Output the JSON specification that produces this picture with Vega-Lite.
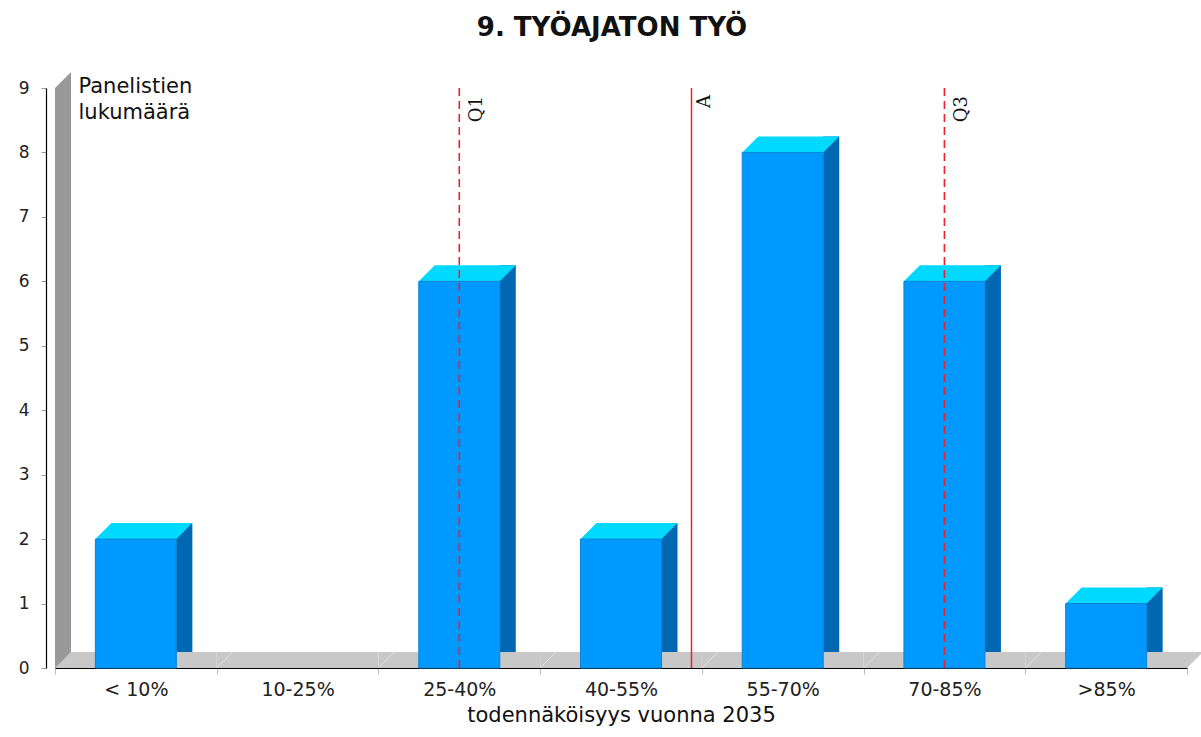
{
  "$schema": "https://vega.github.io/schema/vega-lite/v6.json",
  "width": 1132,
  "height": 580,
  "autosize": {"type": "none"},
  "padding": {"left": 55, "top": 88, "right": 14, "bottom": 69},
  "background": "white",
  "title": {"text": "9. TYÖAJATON TYÖ", "font": "DejaVu Sans", "fontSize": 26, "fontWeight": "bold", "color": "#111111", "anchor": "middle", "offset": 31, "dx": -9},
  "config": {
    "view": {"stroke": null},
    "font": "DejaVu Sans",
    "axisX": {"domainColor": "#000000", "domainWidth": 1.2, "tickBand": "extent", "tickColor": "#bbbbbb", "tickSize": 6, "labelFontSize": 19, "labelColor": "#222222", "labelPadding": 6, "labelAngle": 0, "titleFontSize": 21, "titleFontWeight": "normal", "titleColor": "#111111", "titlePadding": 5, "grid": false, "zindex": 1},
    "axisY": {"offset": 9, "domainColor": "#000000", "domainWidth": 1.2, "tickColor": "#999999", "tickSize": 5, "labelFontSize": 17, "labelColor": "#222222", "labelPadding": 12, "grid": false, "tickCount": 9, "titleAngle": 0, "titleAlign": "left", "titleBaseline": "alphabetic", "titleX": 32, "titleY": 4, "titleFontSize": 21, "titleFontWeight": "normal", "titleColor": "#111111", "titleLineHeight": 26}
  },
  "datasets": {
    "bars": [
      {"cat": "< 10%", "count": 2},
      {"cat": "10-25%", "count": 0},
      {"cat": "25-40%", "count": 6},
      {"cat": "40-55%", "count": 2},
      {"cat": "55-70%", "count": 8},
      {"cat": "70-85%", "count": 6},
      {"cat": ">85%", "count": 1}
    ],
    "quartiles": [
      {"cat": "25-40%", "label": "Q1"},
      {"cat": "70-85%", "label": "Q3"}
    ],
    "average": [
      {"cat": "40-55%", "label": "A"}
    ]
  },
  "layer": [
    {
      "data": {"name": "average"},
      "mark": {"type": "rule", "color": "#999999", "strokeWidth": 16, "xOffset": 8},
      "encoding": {
        "x": {"datum": "< 10%", "bandPosition": 0, "type": "nominal", "scale": {"type": "band", "domain": ["< 10%", "10-25%", "25-40%", "40-55%", "55-70%", "70-85%", ">85%"], "paddingInner": 0, "paddingOuter": 0}, "title": "todennäköisyys vuonna 2035"},
        "y": {"datum": 0, "type": "quantitative", "scale": {"domain": [0, 9], "nice": false}, "title": ["Panelistien", "lukumäärä"]},
        "y2": {"datum": 9}
      }
    },
    {
      "data": {"name": "bars"},
      "mark": {"type": "bar", "color": "#c8c8c8", "width": {"band": 1}, "yOffset": -16},
      "encoding": {
        "x": {"field": "cat", "type": "nominal", "sort": null, "scale": {"type": "band", "domain": ["< 10%", "10-25%", "25-40%", "40-55%", "55-70%", "70-85%", ">85%"], "paddingInner": 0, "paddingOuter": 0}, "title": "todennäköisyys vuonna 2035"},
        "y": {"datum": 0, "type": "quantitative", "scale": {"domain": [0, 9], "nice": false}, "title": ["Panelistien", "lukumäärä"]}
      }
    },
    {
      "data": {"name": "average"},
      "mark": {"type": "point", "shape": "M0,0L0,-16L16,-16Z", "size": 4, "filled": true, "opacity": 1, "strokeWidth": 0, "color": "#999999"},
      "encoding": {
        "x": {"datum": "< 10%", "bandPosition": 0, "type": "nominal"},
        "y": {"datum": 0, "type": "quantitative"}
      }
    },
    {
      "data": {"name": "average"},
      "mark": {"type": "point", "shape": "M0,0L16,-16L16,0Z", "size": 4, "filled": true, "opacity": 1, "strokeWidth": 0, "color": "#999999"},
      "encoding": {
        "x": {"datum": "< 10%", "bandPosition": 0, "type": "nominal"},
        "y": {"datum": 9, "type": "quantitative"}
      }
    },
    {
      "data": {"name": "average"},
      "mark": {"type": "point", "shape": "M0,0L16,-16L0,-16Z", "size": 4, "filled": true, "opacity": 1, "strokeWidth": 0, "color": "#c8c8c8"},
      "encoding": {
        "x": {"datum": ">85%", "bandPosition": 1, "type": "nominal"},
        "y": {"datum": 0, "type": "quantitative"}
      }
    },
    {
      "data": {"name": "bars"},
      "transform": [{"filter": "datum.cat !== '< 10%'"}],
      "mark": {"type": "point", "shape": "M0,0L16,-16", "size": 4, "filled": false, "opacity": 1, "strokeWidth": 1, "color": "#e4e4e4"},
      "encoding": {
        "x": {"field": "cat", "type": "nominal", "bandPosition": 0, "title": "todennäköisyys vuonna 2035"},
        "y": {"datum": 0, "type": "quantitative"}
      }
    },
    {
      "data": {"name": "bars"},
      "transform": [{"filter": "datum.count > 0"}],
      "mark": {"type": "bar", "color": "#0068b2", "width": 16, "xOffset": 48.5, "yOffset": -16},
      "encoding": {
        "x": {"field": "cat", "type": "nominal", "title": "todennäköisyys vuonna 2035"},
        "y": {"field": "count", "type": "quantitative", "title": ["Panelistien", "lukumäärä"]}
      }
    },
    {
      "data": {"name": "bars"},
      "transform": [{"filter": "datum.count > 0"}],
      "mark": {"type": "point", "shape": "M40.5,0L56.5,0L56.5,-16Z", "size": 4, "filled": true, "opacity": 1, "strokeWidth": 0, "color": "#c8c8c8"},
      "encoding": {
        "x": {"field": "cat", "type": "nominal", "title": "todennäköisyys vuonna 2035"},
        "y": {"datum": 0, "type": "quantitative"}
      }
    },
    {
      "data": {"name": "bars"},
      "transform": [{"filter": "datum.count > 0"}],
      "mark": {"type": "point", "shape": "M-40.5,0L40.5,0L56.5,-16L-24.5,-16Z", "size": 4, "filled": true, "opacity": 1, "strokeWidth": 0, "color": "#00d9ff"},
      "encoding": {
        "x": {"field": "cat", "type": "nominal", "title": "todennäköisyys vuonna 2035"},
        "y": {"field": "count", "type": "quantitative", "title": ["Panelistien", "lukumäärä"]}
      }
    },
    {
      "data": {"name": "bars"},
      "transform": [{"filter": "datum.count > 0"}],
      "mark": {"type": "bar", "color": "#0099ff", "width": 81, "stroke": "#0a84d2", "strokeWidth": 1},
      "encoding": {
        "x": {"field": "cat", "type": "nominal", "title": "todennäköisyys vuonna 2035"},
        "y": {"field": "count", "type": "quantitative", "title": ["Panelistien", "lukumäärä"]}
      }
    },
    {
      "data": {"name": "quartiles"},
      "mark": {"type": "rule", "color": "#ee2030", "strokeWidth": 1.6, "strokeDash": [8, 5]},
      "encoding": {
        "x": {"field": "cat", "type": "nominal", "title": "todennäköisyys vuonna 2035"},
        "y": {"datum": 0, "type": "quantitative"},
        "y2": {"datum": 9}
      }
    },
    {
      "data": {"name": "average"},
      "mark": {"type": "rule", "color": "#ff1a1a", "strokeWidth": 1.5},
      "encoding": {
        "x": {"field": "cat", "type": "nominal", "bandPosition": 0.936, "title": "todennäköisyys vuonna 2035"},
        "y": {"datum": 0, "type": "quantitative"},
        "y2": {"datum": 9}
      }
    },
    {
      "data": {"name": "quartiles"},
      "mark": {"type": "text", "font": "DejaVu Serif", "fontSize": 18, "angle": 270, "align": "right", "baseline": "top", "xOffset": 9, "yOffset": 8, "color": "#111111"},
      "encoding": {
        "x": {"field": "cat", "type": "nominal", "title": "todennäköisyys vuonna 2035"},
        "y": {"datum": 9, "type": "quantitative"},
        "text": {"field": "label"}
      }
    },
    {
      "data": {"name": "average"},
      "mark": {"type": "text", "font": "DejaVu Serif", "fontSize": 18, "angle": 270, "align": "right", "baseline": "top", "xOffset": 4, "yOffset": 7, "color": "#111111"},
      "encoding": {
        "x": {"field": "cat", "type": "nominal", "bandPosition": 0.936, "title": "todennäköisyys vuonna 2035"},
        "y": {"datum": 9, "type": "quantitative"},
        "text": {"field": "label"}
      }
    }
  ]
}
